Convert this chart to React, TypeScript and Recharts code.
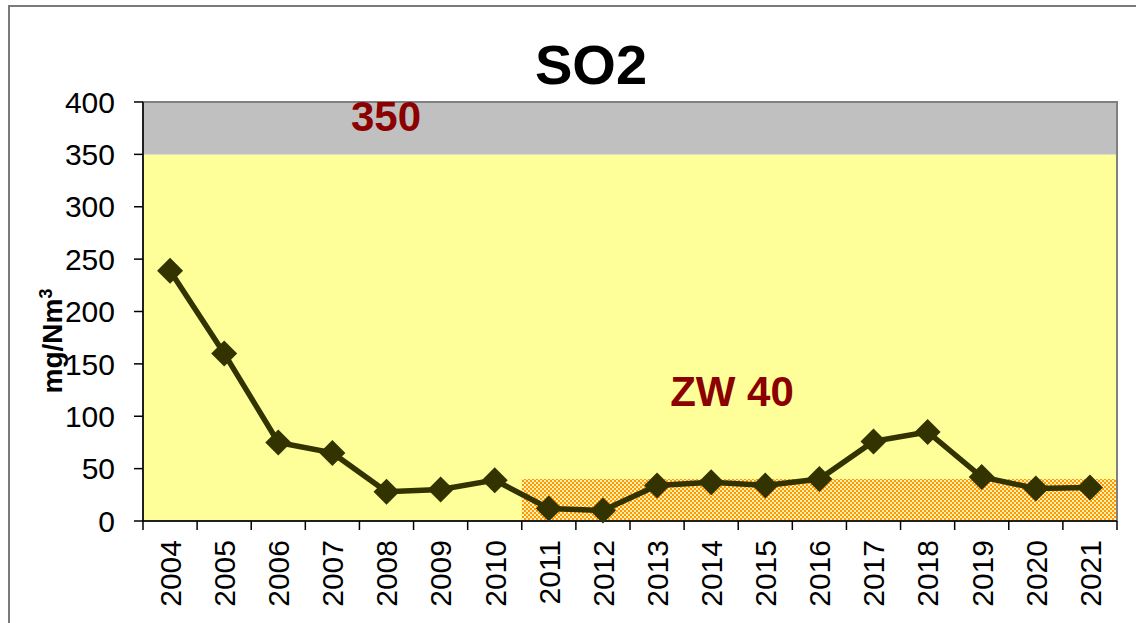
import { LineChart, Line, XAxis, YAxis, ReferenceArea } from 'recharts';

const years = ['2004', '2005', '2006', '2007', '2008', '2009', '2010', '2011', '2012', '2013', '2014', '2015', '2016', '2017', '2018', '2019', '2020', '2021'];
const so2 = [239, 160, 75, 65, 28, 30, 39, 12, 10, 34, 37, 34, 40, 76, 85, 42, 31, 32];
const yTicks = [0, 50, 100, 150, 200, 250, 300, 350, 400];
const limitValue = 350; // grey band above this
const zwValue = 40; // hatched target zone
const zwFromYear = '2011';

const data = years.map((year, i) => ({ i, year, v: so2[i] }));

const W = 1136;
const H = 623;
const LEFT = 143;
const RIGHT = 19;
const TOP = 102;
const BOTTOM = 102;
const band = (W - LEFT - RIGHT) / years.length;
const font = '"Liberation Sans", Arial, sans-serif';

const YearTick = (props: any) => {
  const { x, y, payload } = props;
  const idx = payload.value as number;
  const left = x - band / 2;
  return (
    <g>
      <line x1={left} y1={y} x2={left} y2={y + 9} stroke="#000" strokeWidth={1.5} />
      {idx === years.length - 1 && (
        <line x1={x + band / 2} y1={y} x2={x + band / 2} y2={y + 9} stroke="#000" strokeWidth={1.5} />
      )}
      <g transform={`translate(${x},${y + 19}) rotate(-90)`}>
        <text textAnchor="end" dy="0.36em" fontSize={30} fill="#000" fontFamily={font}>
          {years[idx]}
        </text>
      </g>
    </g>
  );
};

const Diamond = (props: any) => {
  const { cx, cy, index } = props;
  const r = 13;
  return (
    <polygon
      key={`d-${index}`}
      points={`${cx},${cy - r} ${cx + r},${cy} ${cx},${cy + r} ${cx - r},${cy}`}
      fill="#333300"
    />
  );
};

export default function App() {
  const zwStart = years.indexOf(zwFromYear) - 0.5;
  return (
    <div style={{ position: 'absolute', left: 0, top: 0, width: W, height: H, background: '#fff', overflow: 'hidden', fontFamily: font }}>
      <div style={{ position: 'absolute', left: 8, top: 5, width: 1200, height: 700, borderLeft: '2px solid #7a7a7a', borderTop: '2px solid #7a7a7a' }} />
      <div style={{ position: 'absolute', left: 441, top: 37, width: 300, textAlign: 'center', fontSize: 56, fontWeight: 'bold', lineHeight: 1 }}>
        SO2
      </div>
      <LineChart
        width={W}
        height={H}
        data={data}
        margin={{ top: TOP, right: RIGHT, left: 0, bottom: 0 }}
        style={{ position: 'absolute', left: 0, top: 0 }}
      >
        <defs>
          <pattern id="zwHatch" patternUnits="userSpaceOnUse" width={4} height={4}>
            <rect x={0} y={0} width={4} height={4} fill="#FF9900" />
            <rect x={0} y={0} width={2} height={2} fill="#FFEFB0" />
            <rect x={2} y={2} width={2} height={2} fill="#FFEFB0" />
          </pattern>
        </defs>
        <ReferenceArea y1={0} y2={limitValue} fill="#FFFF99" fillOpacity={1} stroke="none" />
        <ReferenceArea y1={limitValue} y2={400} fill="#C0C0C0" fillOpacity={1} stroke="none" />
        <ReferenceArea x1={zwStart} x2={years.length - 0.5} y1={0} y2={zwValue} fill="url(#zwHatch)" fillOpacity={1} stroke="none" />
        <ReferenceArea y1={0} y2={400} fill="none" stroke="#808080" strokeWidth={2} />
        <ReferenceArea y1={limitValue} y2={limitValue} fill="none" stroke="#808080" strokeWidth={1.5} />
        <XAxis
          dataKey="i"
          type="number"
          domain={[-0.5, years.length - 0.5]}
          ticks={years.map((_, i) => i)}
          interval={0}
          height={BOTTOM}
          tickSize={0}
          tickMargin={0}
          tickLine={false}
          axisLine={{ stroke: '#000', strokeWidth: 1.5 }}
          tick={<YearTick />}
        />
        <YAxis
          domain={[0, 400]}
          ticks={yTicks}
          interval={0}
          width={LEFT}
          tickSize={9}
          tickMargin={19}
          axisLine={{ stroke: '#000', strokeWidth: 1.5 }}
          tickLine={{ stroke: '#000', strokeWidth: 1.5 }}
          tick={{ fontSize: 30, fill: '#000', fontFamily: font }}
        />
        <Line
          dataKey="v"
          type="linear"
          stroke="#333300"
          strokeWidth={5.5}
          dot={Diamond}
          activeDot={false}
          isAnimationActive={false}
        />
      </LineChart>
      <div style={{ position: 'absolute', left: 286, top: 96, width: 200, textAlign: 'center', fontSize: 42, fontWeight: 'bold', color: '#8B0000', lineHeight: 1 }}>
        350
      </div>
      <div style={{ position: 'absolute', left: 582, top: 371, width: 300, textAlign: 'center', fontSize: 42, fontWeight: 'bold', color: '#8B0000', lineHeight: 1 }}>
        ZW 40
      </div>
      <div
        style={{
          position: 'absolute',
          left: 53,
          top: 341,
          transform: 'translate(-50%, -50%) rotate(-90deg)',
          fontSize: 28,
          fontWeight: 'bold',
          lineHeight: 1,
          whiteSpace: 'nowrap',
        }}
      >
        mg/Nm<span style={{ fontSize: 18, position: 'relative', top: -10 }}>3</span>
      </div>
    </div>
  );
}
